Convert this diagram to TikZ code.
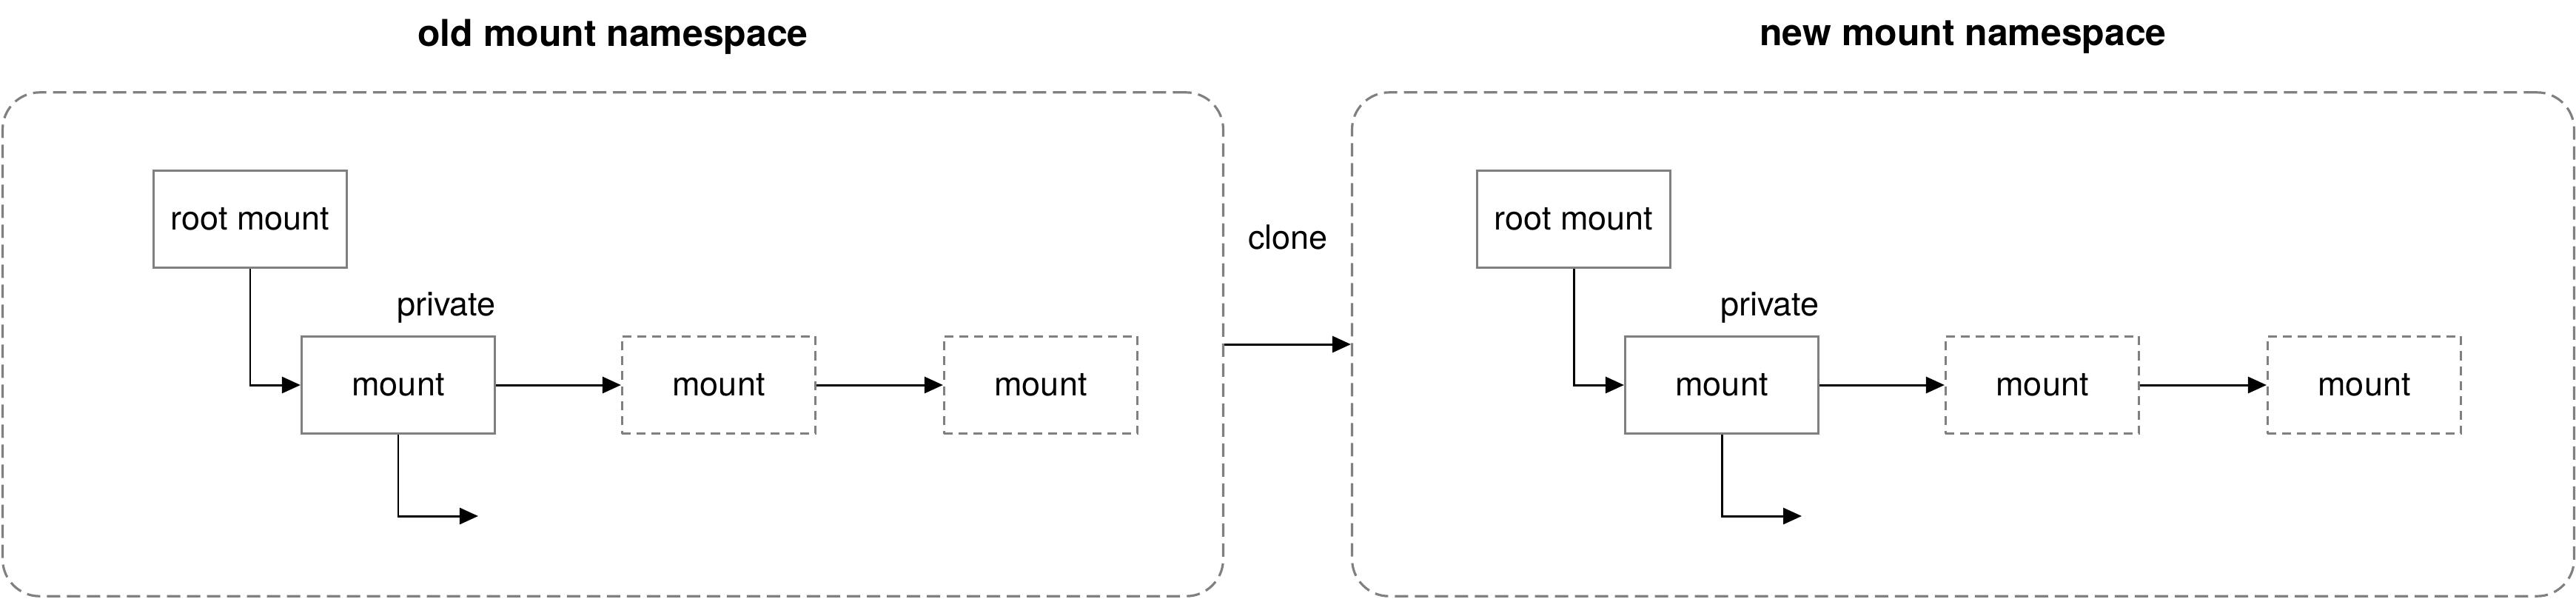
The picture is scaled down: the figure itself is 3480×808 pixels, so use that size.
\documentclass[tikz,border=0pt]{standalone}
\usepackage{fontspec}
\setmainfont{TeX Gyre Heros}
\usepackage{tikz}
\usetikzlibrary{arrows.meta}

\begin{document}
\begin{tikzpicture}[x=0.01cm,y=-0.01cm]
\tikzset{>={Triangle[length=0.25cm,width=0.22cm]},
every node/.style={font=\fontsize{12.8}{15}\selectfont},
ns/.style={draw=gray,dash pattern=on 0.18cm off 0.09cm,line width=0.9pt,rounded corners=0.5cm,minimum width=16.48cm,minimum height=6.8cm,inner sep=0pt},
mnt/.style={draw=gray,line width=0.85pt,minimum width=2.61cm,minimum height=1.31cm,inner sep=0pt},
shadow/.style={mnt,dash pattern=on 0.12cm off 0.08cm},
title/.style={font=\fontsize{14.2}{17}\selectfont\bfseries},
link/.style={line width=0.85pt,->}}
\useasboundingbox (0,0) rectangle (3480,808);

\node[ns] (oldns) at (828,465) {};
\node[ns,minimum width=16.5cm] (newns) at (2652,465) {};
\node[title] (oldt) at (828,50) {old mount namespace};
\node[title] (newt) at (2652,50) {new mount namespace};

\node[mnt] (oroot) at (338,296) {root mount};
\node (opriv) at (603,415) {private};
\node[mnt] (om1) at (538,520) {mount};
\node[shadow] (om2) at (971,520) {mount};
\node[shadow] (om3) at (1406,520) {mount};
\coordinate (oend) at (646,697);
\draw[link] (oroot.south) |- (om1.west);
\draw[link] (om1.east) -- (om2.west);
\draw[link] (om2.east) -- (om3.west);
\draw[link] (om1.south) |- (oend);

\node (clone) at (1740,320) {clone};
\draw[link] (oldns.east) -- (newns.west);

\node[mnt] (nroot) at (2126,296) {root mount};
\node (npriv) at (2391,415) {private};
\node[mnt] (nm1) at (2326,520) {mount};
\node[shadow] (nm2) at (2759,520) {mount};
\node[shadow] (nm3) at (3194,520) {mount};
\coordinate (nend) at (2434,697);
\draw[link] (nroot.south) |- (nm1.west);
\draw[link] (nm1.east) -- (nm2.west);
\draw[link] (nm2.east) -- (nm3.west);
\draw[link] (nm1.south) |- (nend);
\end{tikzpicture}
\end{document}
